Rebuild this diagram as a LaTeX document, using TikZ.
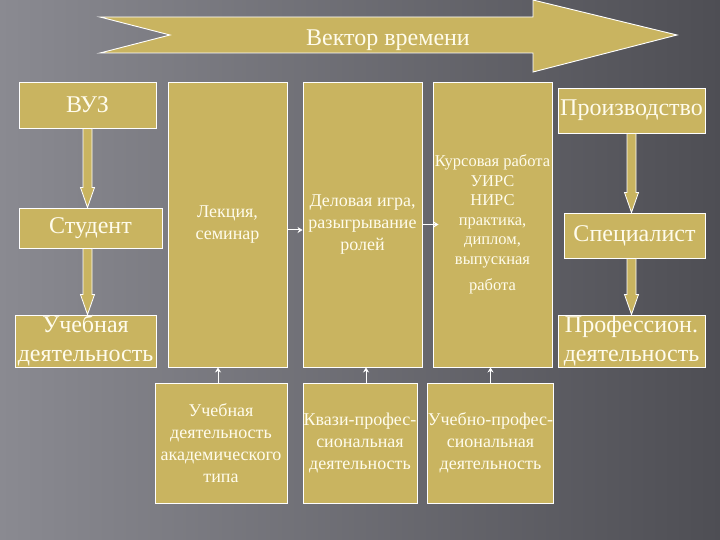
\documentclass[tikz,border=0pt]{standalone}
\usepackage{fontspec}
\setmainfont{Liberation Serif}
\newfontfamily\serifru{Liberation Serif}
\usetikzlibrary{calc}
\usetikzlibrary{arrows.meta}
\definecolor{khaki}{RGB}{201,180,96}
\definecolor{bgleft}{RGB}{138,138,145}
\definecolor{bgright}{RGB}{78,78,84}
\definecolor{cream}{RGB}{255,252,236}
\tikzset {
  % khaki boxes with a white frame
  box/.style = {draw=white, fill=khaki, line width=0.9pt, text=cream, inner sep=0pt, align=center},
  big/.style = {font=\serifru\fontsize{24}{29}\selectfont},
  mid/.style = {font=\serifru\fontsize{18}{22}\selectfont},
  small/.style = {font=\serifru\fontsize{16.5}{19.5}\selectfont},
  % hollow down arrows between the side boxes
  fat/.style = {draw=white, fill=khaki, line width=0.8pt,
    to path={let \p1=(\tikztostart), \p2=(\tikztotarget) in
      (\x1-4.5pt,\y1) -- (\x1-4.5pt,\y2+20pt) -- (\x1-7pt,\y2+20pt) -- (\x1,\y2)
      -- (\x1+7pt,\y2+20pt) -- (\x1+4.5pt,\y2+20pt) -- (\x1+4.5pt,\y1) -- cycle}},
  % thin white links
  link/.style = {white, line width=1pt, -{Stealth[length=5pt,width=6pt]}},
}

\begin{document}
\begin{tikzpicture}[x=1pt, y=-1pt]
  \useasboundingbox (0,0) rectangle (720,540);
  \shade[left color=bgleft, right color=bgright] (0,0) rectangle (720,540);

  % time vector
  \draw[draw=white, fill=khaki, line width=0.9pt] (100,17) -- (533,17) -- (533,0) -- (677,35)
    -- (533,72) -- (533,53) -- (100,53) -- (170,35) -- cycle;
  \node[text=cream, big] (vector) at (388,40) {Вектор времени};

  % left side
  \node[box, big, minimum width=137, minimum height=46] (vuz) at (87.5,105) {ВУЗ};
  \node[box, big, minimum width=143, minimum height=40] (student) at (90.5,228) {Студент};
  \node[box, big, minimum width=141, minimum height=52] (ucheb) at (85.5,341) {Учебная\\деятельность};

  % columns
  \node[box, mid, minimum width=119, minimum height=285] (lecture) at (227.5,224.5) {Лекция,\\семинар};
  \node[box, mid, minimum width=119, minimum height=285] (game) at (362.5,224.5) {Деловая игра,\\разыгрывание\\ролей};
  \node[box, small, minimum width=119, minimum height=285] (kurs) at (492.5,224.5)
    {Курсовая работа\\УИРС\\НИРС\\практика,\\диплом,\\выпускная\\[7pt]работа};

  % right side
  \node[box, big, minimum width=147, minimum height=45] (proizv) at (631.5,110.5) {Производство};
  \node[box, big, minimum width=141, minimum height=45] (spec) at (634.5,235.5) {Специалист};
  \node[box, big, minimum width=147, minimum height=52] (prof) at (631.5,341) {Профессион.\\деятельность};

  % bottom row
  \node[box, mid, minimum width=132, minimum height=120] (acad) at (221,443) {Учебная\\деятельность\\академического\\типа};
  \node[box, mid, minimum width=114, minimum height=120] (kvazi) at (360,443) {Квази-профес-\\сиональная\\деятельность};
  \node[box, mid, minimum width=125, minimum height=120] (uchprof) at (490.5,443) {Учебно-профес-\\сиональная\\деятельность};

  \draw[fat] (vuz.south) to (student.north);
  \draw[fat] ([xshift=-3pt]student.south) to (ucheb.north);
  \draw[fat] (proizv.south) to (spec.north);
  \draw[fat] ([xshift=-3pt]spec.south) to (prof.north);

  \draw[link] ([yshift=-5.5pt]lecture.east) -- ([yshift=-5.5pt]game.west);
  \draw[link] (game.east) -- ([xshift=6pt]kurs.west);
  \draw[link] ([xshift=-3pt]acad.north) -- ([xshift=-3pt]acad.north |- lecture.south);
  \draw[link] ([xshift=6pt]kvazi.north) -- ([xshift=6pt]kvazi.north |- game.south);
  \draw[link] (uchprof.north) -- (uchprof.north |- kurs.south);
\end{tikzpicture}
\end{document}
